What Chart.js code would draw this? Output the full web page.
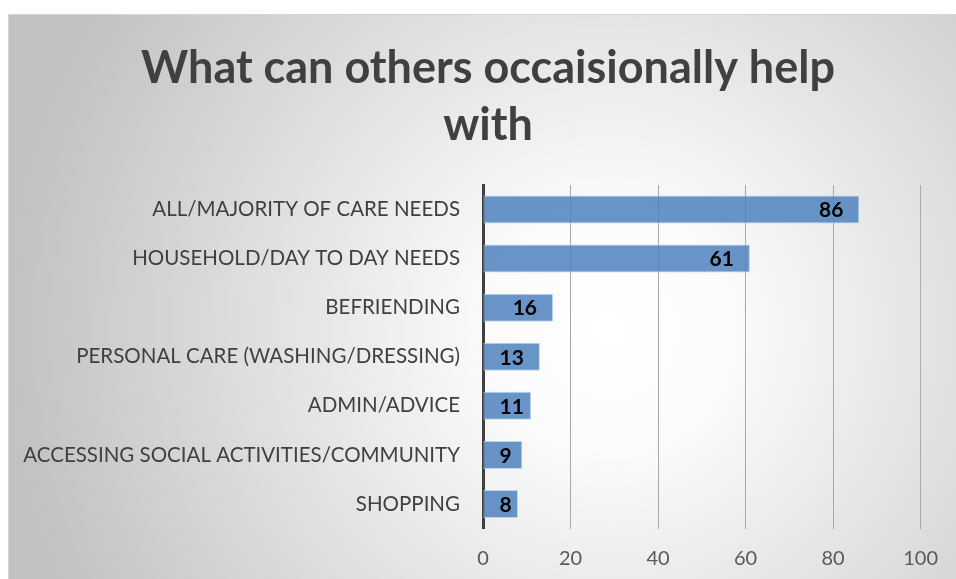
<!DOCTYPE html>
<html>
<head>
<meta charset="utf-8">
<style>
  html, body { margin: 0; padding: 0; background: #fff; overflow: hidden; }
  #wrap { width: 956px; height: 579px; }
</style>
<script src="https://cdn.jsdelivr.net/npm/chart.js@4.4.1/dist/chart.umd.min.js"></script>
</head>
<body>
<div id="wrap"><canvas id="helpChart" width="956" height="579"></canvas></div>
<script>
// --- data ---
const titleLines = ['What can others occaisionally help', 'with'];
const categories = [
  'ALL/MAJORITY OF CARE NEEDS',
  'HOUSEHOLD/DAY TO DAY NEEDS',
  'BEFRIENDING',
  'PERSONAL CARE (WASHING/DRESSING)',
  'ADMIN/ADVICE',
  'ACCESSING SOCIAL ACTIVITIES/COMMUNITY',
  'SHOPPING'
];
const counts = [86, 61, 16, 13, 11, 9, 8];
const xTicks = [0, 20, 40, 60, 80, 100];

const FONT = 'Lato, "Open Sans", sans-serif';

// grey-to-white radial backdrop with a thin frame
const backdrop = {
  id: 'backdrop',
  beforeDraw(chart) {
    const ctx = chart.ctx;
    ctx.save();
    const g = ctx.createRadialGradient(610, 330, 0, 610, 330, 600);
    g.addColorStop(0, '#ffffff');
    g.addColorStop(0.2, '#fbfbfb');
    g.addColorStop(1, '#c2c2c2');
    ctx.fillStyle = g;
    ctx.fillRect(8, 14, 948, 565);
    ctx.strokeStyle = '#d4d4d4';
    ctx.lineWidth = 1;
    ctx.strokeRect(8.5, 14.5, 960, 580);
    ctx.restore();
  }
};

// two-line heading, centred over the plot
const heading = {
  id: 'heading',
  afterDraw(chart) {
    const ctx = chart.ctx;
    ctx.save();
    ctx.font = 'bold 45px ' + FONT;
    ctx.fillStyle = '#404040';
    ctx.textAlign = 'center';
    ctx.textBaseline = 'middle';
    titleLines.forEach((t, i) => ctx.fillText(t, 488, 68 + i * 57));
    ctx.restore();
  }
};

// value labels inside the bar end
const barValues = {
  id: 'barValues',
  afterDatasetsDraw(chart) {
    const ctx = chart.ctx;
    const meta = chart.getDatasetMeta(0);
    ctx.save();
    ctx.font = 'bold 21px ' + FONT;
    ctx.fillStyle = '#000000';
    ctx.textAlign = 'left';
    ctx.textBaseline = 'middle';
    meta.data.forEach((bar, i) => {
      const txt = String(counts[i]);
      const w = ctx.measureText(txt).width;
      const x = Math.max(bar.base + 16, bar.x - 16 - w);
      ctx.fillText(txt, x, bar.y + 1);
    });
    ctx.restore();
  }
};

new Chart(document.getElementById('helpChart'), {
  type: 'bar',
  data: {
    labels: categories,
    datasets: [{
      data: counts,
      backgroundColor: 'rgba(79,129,189,0.85)',
      borderColor: 'rgba(185,208,236,0.9)',
      borderWidth: 1,
      borderSkipped: false,
      barPercentage: 0.57,
      categoryPercentage: 1
    }]
  },
  options: {
    indexAxis: 'y',
    responsive: false,
    animation: false,
    layout: { padding: { left: 8, top: 185, right: 35, bottom: 0 } },
    plugins: {
      legend: { display: false },
      title: { display: false },
      tooltip: { enabled: false }
    },
    scales: {
      x: {
        min: 0,
        max: 100,
        afterBuildTicks: s => { s.ticks = xTicks.map(v => ({ value: v })); },
        afterFit: s => { s.height = 50.5; },
        grid: { color: '#a9a9a9', lineWidth: 1, drawTicks: false },
        border: { display: false },
        ticks: { padding: 18, color: '#595959', font: { family: FONT, size: 20 } }
      },
      y: {
        afterFit: s => { s.width = 475; },
        grid: { drawOnChartArea: false, drawTicks: false },
        border: { display: true, color: '#404040', width: 3 },
        ticks: { padding: 23, color: '#404040', font: { family: FONT, size: 20.5 } }
      }
    }
  },
  plugins: [backdrop, heading, barValues]
});
</script>
</body>
</html>
